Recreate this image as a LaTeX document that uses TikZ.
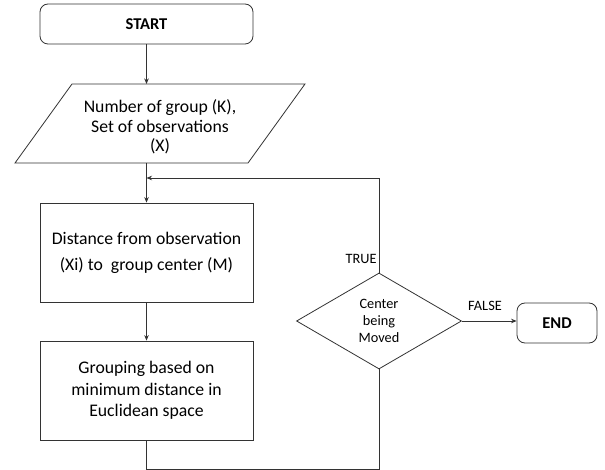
\documentclass[tikz,border=0pt]{standalone}
\usepackage{fontspec}
\setmainfont{Carlito}
\usetikzlibrary{shapes.geometric,arrows.meta}
\begin{document}
\begin{tikzpicture}[x=1pt,y=-1pt,
  line width=0.8pt,
  conn/.style={draw=black!80},
  >={Stealth[length=5.5pt,width=4.5pt]},
  term/.style={draw=black!80, rounded corners=8pt, inner sep=0pt, font=\fontsize{16.5}{19}\selectfont\bfseries},
  proc/.style={draw=black!80, minimum width=213pt, minimum height=99pt, inner sep=0pt, align=center, font=\fontsize{17.7}{21.5}\selectfont},
  decbox/.style={draw=black!80, diamond, minimum width=165pt, minimum height=96pt, inner sep=0pt, align=center, font=\fontsize{14.3}{17}\selectfont},
  lbl/.style={font=\fontsize{14.3}{17}\selectfont}]
\fill[white] (0,0) rectangle (605,470);
\useasboundingbox (0,0) rectangle (605,470);

% START
\node[term, minimum width=213pt, minimum height=40pt] (start) at (146.5,24) {START};

% input parallelogram
\draw[conn] (72,84) -- (305,84) -- (248,163) -- (15,163) -- cycle;
\coordinate (inpT) at (146.5,84);
\coordinate (inpB) at (146.5,163);
\node[align=center, font=\fontsize{17.7}{19.5}\selectfont, inner sep=0pt] (inp) at (160,127) {Number of group (K),\\Set of observations\\(X)};

% process boxes
\node[proc] (dist) at (146.5,252.5) {Distance from observation\\[4.5pt](Xi) to\ \ group center (M)};
\node[proc] (grp) at (146.5,390.5) {Grouping based on\\minimum distance in\\Euclidean space};

% decision
\node[decbox] (dec) at (379,321) {Center\\being\\Moved};

% END
\node[term, minimum width=80pt, minimum height=40pt] (end) at (557,323) {END};

% junction on the line between input and first box
\coordinate (join) at (146.5,178);

% connectors
\draw[conn,->] (start.south) -- (inpT);
\draw[conn,->] (inpB) -- (dist.north);
\draw[conn,->] (dist.south) -- (grp.north);
\draw[conn] (grp.south) -- ++(0,29) -| (dec.south);
\draw[conn,->] (dec.north) |- (join);
\draw[conn,->] (dec.east) -- (end.west |- dec.east);

% labels
\node[lbl, anchor=east, inner sep=0pt] (ltrue) at (377,259) {TRUE};
\node[lbl, inner sep=0pt] (lfalse) at (485,306) {FALSE};
\end{tikzpicture}
\end{document}
